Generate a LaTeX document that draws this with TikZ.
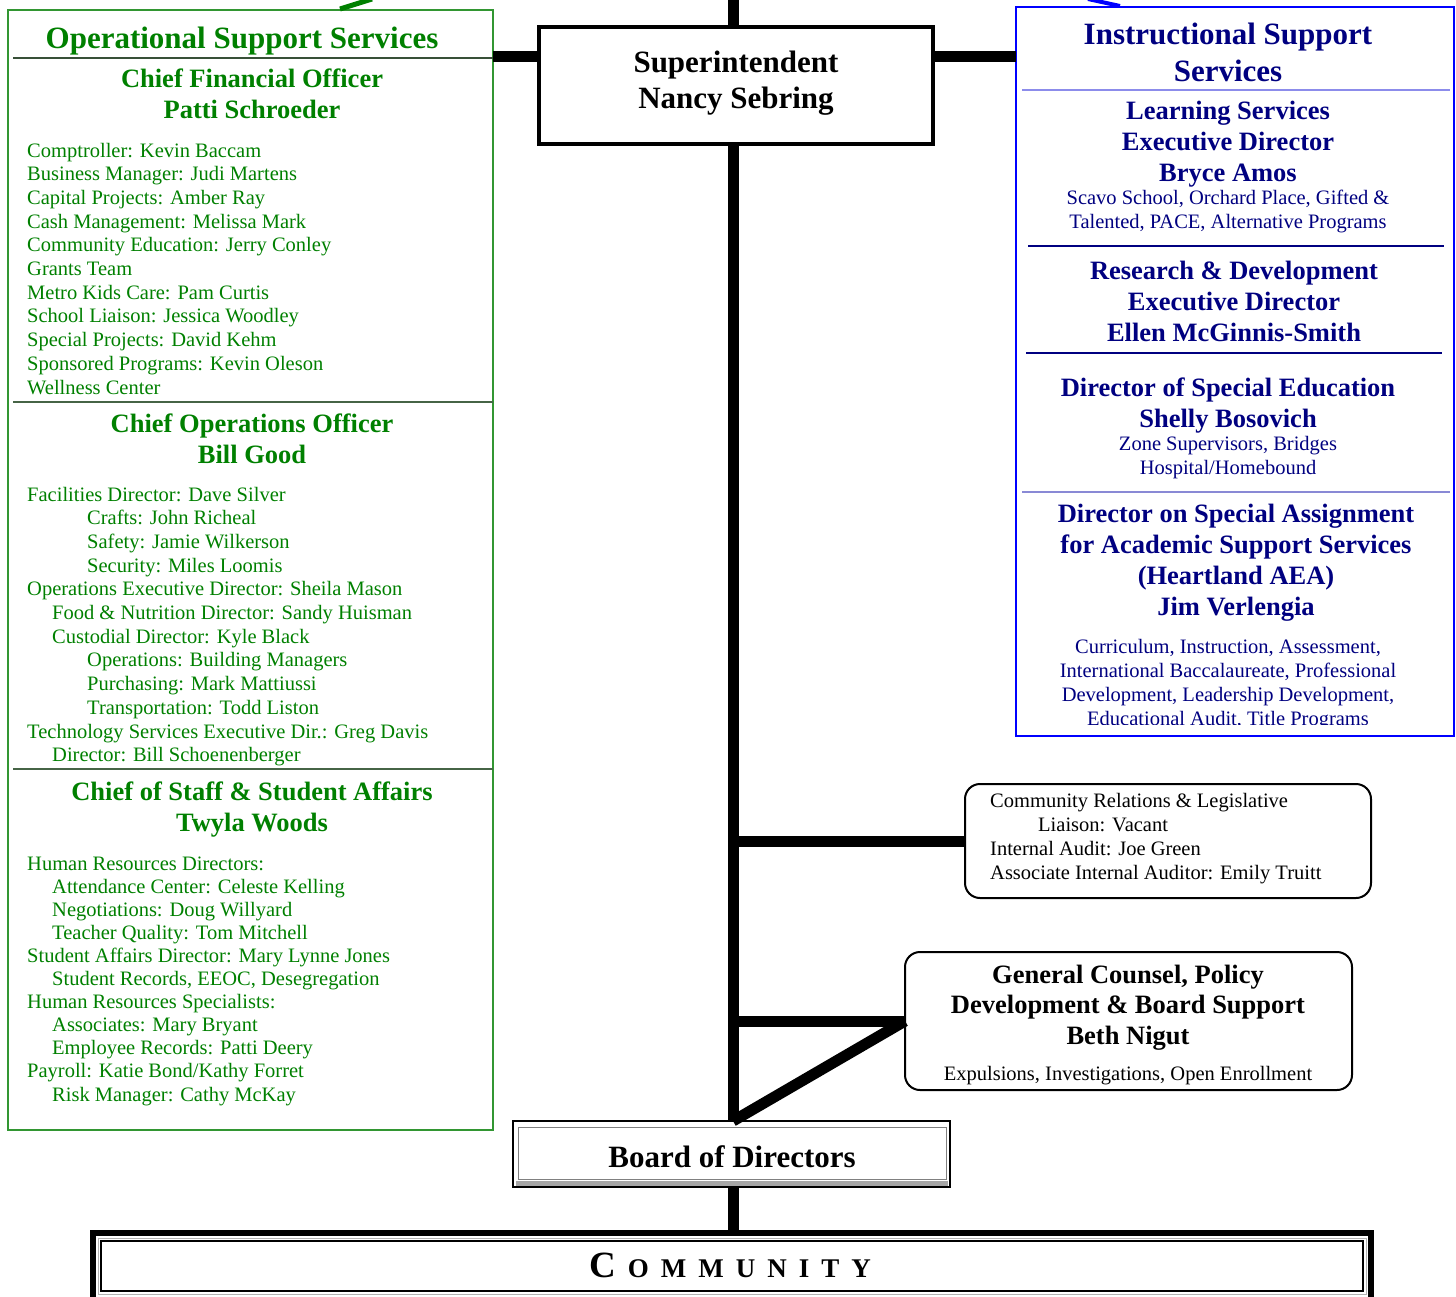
\documentclass[tikz,border=0pt]{standalone}
\usepackage{fontspec}
\setmainfont{Liberation Serif}
\definecolor{dgreen}{RGB}{0,128,0}
\definecolor{fgreen}{RGB}{50,150,50}
\definecolor{sepgreen}{RGB}{70,100,70}
\definecolor{navy}{RGB}{0,0,128}
\definecolor{lblue}{RGB}{140,140,235}
\newcommand\bodyfnt{\fontsize{20.5pt}{23.7pt}\selectfont}
\newcommand\headfnt{\bfseries\fontsize{26.5pt}{31pt}\selectfont}
\newcommand\titlefnt{\bfseries\fontsize{31pt}{37pt}\selectfont}
\begin{document}
\begin{tikzpicture}[x=1pt,y=-1pt,
  box/.style={draw, inner sep=0pt, outer sep=0pt, anchor=north west},
  link/.style={line width=11pt, black},
  gbody/.style={font=\bodyfnt, align=left, anchor=base west, inner sep=0pt, text=dgreen},
  ghead/.style={font=\headfnt, align=center, anchor=base, inner sep=0pt, text=dgreen},
  nhead/.style={font=\headfnt, align=center, anchor=base, inner sep=0pt, text=navy},
  nbody/.style={font=\bodyfnt, align=center, anchor=base, inner sep=0pt, text=navy},
  kbody/.style={font=\bodyfnt, align=left, anchor=base west, inner sep=0pt, text=black},
  khead/.style={font=\headfnt, align=center, anchor=base, inner sep=0pt, text=black}
]
\useasboundingbox (0,0) rectangle (1456,1297);

% boxes
\node[box, draw=fgreen, line width=2pt, minimum width=485pt, minimum height=1120pt] (ops) at (8,10) {};
\node[box, draw=blue, line width=2.5pt, minimum width=438pt, minimum height=729pt] (ins) at (1016,7) {};
\node[box, line width=3.5pt, minimum width=394pt, minimum height=117pt, fill=white] (sup) at (539,27) {};
\node[box, rounded corners=15pt, line width=2pt, minimum width=406pt, minimum height=114pt, fill=white] (cr) at (965,784) {};
\node[box, rounded corners=15pt, line width=2pt, minimum width=447pt, minimum height=138pt, fill=white] (gc) at (905,952) {};
\node[box, line width=1.5pt, minimum width=437pt, minimum height=66pt, fill=white] (bod) at (513,1121) {};
\node[box, line width=6pt, minimum width=1278pt, minimum height=80pt, fill=white] (com) at (93,1233) {};

% connectors
\coordinate (lev) at (0,57);
\coordinate (sp) at (733,0);
\draw[link] (ops.east |- lev) -- (sup.west |- lev);
\draw[link] (sup.east |- lev) -- (ins.west |- lev);
\draw[link] (sp) -- (sp |- sup.north);
\draw[link] (sp |- sup.south) -- (sp |- bod.north);
\draw[link] (sp |- bod.south) -- (sp |- com.north);
\draw[link] (sp |- cr.west) -- (cr.west);
\draw[link] (sp |- gc.west) -- (gc.west);
\draw[link] (gc.west) -- (sp |- bod.north);

% partial strokes at top edge
\draw[dgreen, line width=5pt] (340,9) -- (372,-1);
\draw[blue, line width=4pt] (1088,-1) -- (1120,6);

% separators
\draw[sepgreen!80!black, line width=1.5pt] (13,58) -- (493,58);
\draw[sepgreen, line width=2pt] (13,402) -- (493,402);
\draw[sepgreen, line width=2pt] (13,769) -- (493,769);
\draw[lblue, line width=2.5pt] (1022,90) -- (1450,90);
\draw[navy, line width=2pt] (1028,246) -- (1444,246);
\draw[navy, line width=2pt] (1026,353) -- (1442,353);
\draw[lblue!80!gray, line width=1.5pt] (1022,492) -- (1450,492);

% board details
\draw[gray, line width=1pt] (518,1127) rectangle (946,1179);
\draw[gray!70, line width=5pt] (516,1183) -- (948,1183);
% community inner frame
\draw[gray!60, line width=1pt] (98,1238) rectangle (1366,1294);
\draw[black, line width=1.2pt] (101,1241) rectangle (1363,1291);

% left texts (multi-line nodes are anchored at the baseline of their last line)
\node[font=\titlefnt, text=dgreen, anchor=base, inner sep=0pt] (opst) at (242,49) {Operational Support Services};
\node[ghead] (cfo) at (252,119) {Chief Financial Officer\\Patti Schroeder};
\node[gbody] (cfob) at (27,394) {Comptroller: Kevin Baccam\\
Business Manager: Judi Martens\\
Capital Projects: Amber Ray\\
Cash Management: Melissa Mark\\
Community Education: Jerry Conley\\
Grants Team\\
Metro Kids Care: Pam Curtis\\
School Liaison: Jessica Woodley\\
Special Projects: David Kehm\\
Sponsored Programs: Kevin Oleson\\
Wellness Center};
\node[ghead] (coo) at (252,463) {Chief Operations Officer\\Bill Good};
\node[gbody] (coob) at (27,761.7) {Facilities Director: Dave Silver\\
\hspace*{60pt}Crafts: John Richeal\\
\hspace*{60pt}Safety: Jamie Wilkerson\\
\hspace*{60pt}Security: Miles Loomis\\
Operations Executive Director: Sheila Mason\\
\hspace*{25pt}Food \& Nutrition Director: Sandy Huisman\\
\hspace*{25pt}Custodial Director: Kyle Black\\
\hspace*{60pt}Operations: Building Managers\\
\hspace*{60pt}Purchasing: Mark Mattiussi\\
\hspace*{60pt}Transportation: Todd Liston\\
Technology Services Executive Dir.: Greg Davis\\
\hspace*{25pt}Director: Bill Schoenenberger};
\node[ghead] (cos) at (252,831) {Chief of Staff \& Student Affairs\\Twyla Woods};
\node[gbody, font=\fontsize{20.5pt}{23.1pt}\selectfont] (cosb) at (27,1101) {Human Resources Directors:\\
\hspace*{25pt}Attendance Center: Celeste Kelling\\
\hspace*{25pt}Negotiations: Doug Willyard\\
\hspace*{25pt}Teacher Quality: Tom Mitchell\\
Student Affairs Director: Mary Lynne Jones\\
\hspace*{25pt}Student Records, EEOC, Desegregation\\
Human Resources Specialists:\\
\hspace*{25pt}Associates: Mary Bryant\\
\hspace*{25pt}Employee Records: Patti Deery\\
Payroll: Katie Bond/Kathy Forret\\
\hspace*{25pt}Risk Manager: Cathy McKay};

% superintendent
\node[font=\bfseries\fontsize{31pt}{36pt}\selectfont, align=center, anchor=base, inner sep=0pt] (supt) at (736,109) {Superintendent\\Nancy Sebring};

% right texts
\node[font=\titlefnt, text=navy, align=center, anchor=base, inner sep=0pt] (inst) at (1228,82) {Instructional Support\\Services};
\node[nhead] (ls) at (1228,182) {Learning Services\\Executive Director\\Bryce Amos};
\node[nbody, font=\fontsize{20.5pt}{24pt}\selectfont] (lsb) at (1228,229) {Scavo School, Orchard Place, Gifted \&\\Talented, PACE, Alternative Programs};
\node[nhead] (rd) at (1234,341) {Research \& Development\\Executive Director\\Ellen McGinnis-Smith};
\node[nhead] (se) at (1228,427) {Director of Special Education\\Shelly Bosovich};
\node[nbody, font=\fontsize{20.5pt}{24pt}\selectfont] (seb) at (1228,474) {Zone Supervisors, Bridges\\Hospital/Homebound};
\node[nhead, font=\bfseries\fontsize{26.5pt}{30.7pt}\selectfont] (dsa) at (1236,615) {Director on Special Assignment\\for Academic Support Services\\(Heartland AEA)\\Jim Verlengia};
\begin{scope}
\clip (1016,7) rectangle (1454,724);
\node[nbody] (dsab) at (1228,725) {Curriculum, Instruction, Assessment,\\International Baccalaureate, Professional\\Development, Leadership Development,\\Educational Audit, Title Programs};
\end{scope}

% community relations
\node[kbody] (crt) at (990,879) {Community Relations \& Legislative\\
\hspace*{48pt}Liaison: Vacant\\
Internal Audit: Joe Green\\
Associate Internal Auditor: Emily Truitt};

% general counsel
\node[khead, font=\bfseries\fontsize{26.5pt}{30.5pt}\selectfont] (gct) at (1128,1044) {General Counsel, Policy\\Development \& Board Support\\Beth Nigut};
\node[font=\bodyfnt, anchor=base, inner sep=0pt] (gcb) at (1128,1080) {Expulsions, Investigations, Open Enrollment};

% board
\node[font=\titlefnt, anchor=base, inner sep=0pt] (bodt) at (732,1167) {Board of Directors};

% community
\node[font=\bfseries\fontsize{27pt}{30pt}\selectfont, anchor=base, inner sep=0pt] (comt) at (730,1277)
 {{\fontsize{37pt}{40pt}\selectfont C}\hspace{12pt}O\hspace{12pt}M\hspace{12pt}M\hspace{12pt}U\hspace{12pt}N\hspace{12pt}I\hspace{12pt}T\hspace{12pt}Y};
\end{tikzpicture}
\end{document}
